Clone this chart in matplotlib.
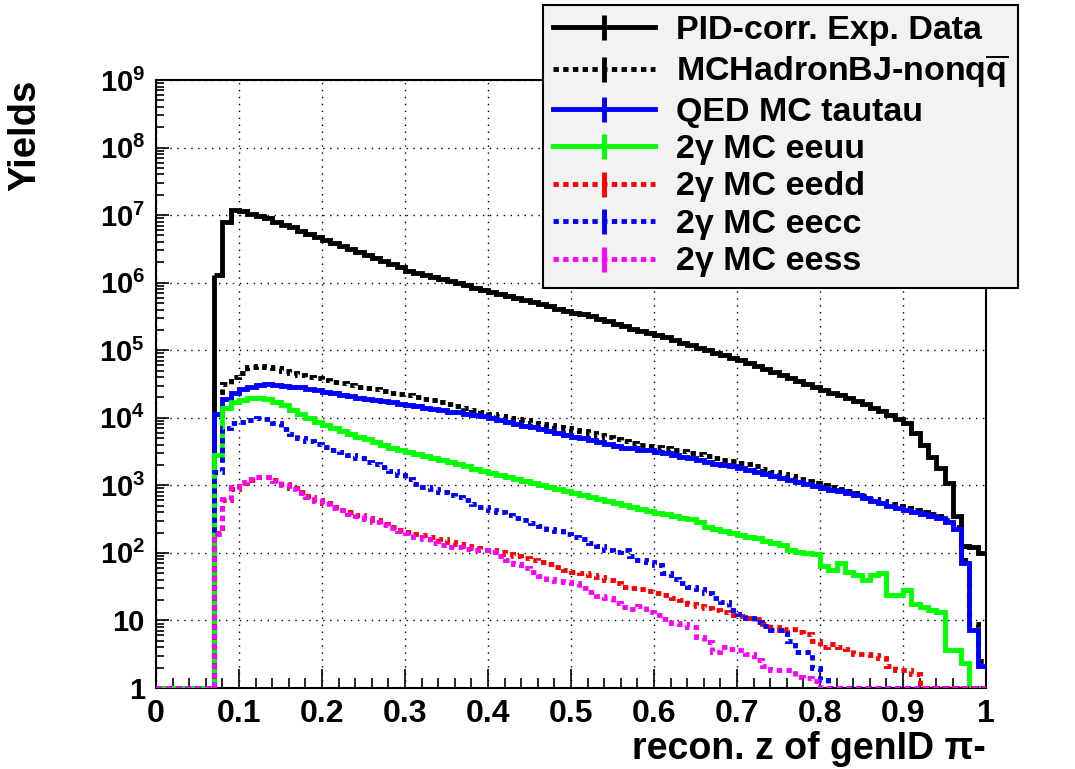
import numpy as np
import matplotlib.pyplot as plt
from matplotlib.lines import Line2D
from matplotlib.ticker import FixedLocator, FixedFormatter, LogLocator, NullFormatter

plt.rcParams['font.family'] = ['Liberation Sans', 'DejaVu Sans']
plt.rcParams['font.weight'] = 'bold'
plt.rcParams['mathtext.fontset'] = 'custom'
plt.rcParams['mathtext.rm'] = 'Liberation Sans:bold'
plt.rcParams['mathtext.bf'] = 'Liberation Sans:bold'
plt.rcParams['mathtext.it'] = 'Liberation Sans:bold'

# histogram binning: 100 bins of 0.01 in z
bin_edges = np.linspace(0, 1, 101)

# log10(yield) per bin; empty MC bins sit on the floor (yield 1)
# data starts at z = 0.07
data_log10 = [6.11, 6.90, 7.07,
              7.06, 7.02, 6.98, 6.95, 6.90, 6.86, 6.82, 6.77, 6.72, 6.68,
              6.63, 6.58, 6.54, 6.50, 6.46, 6.41, 6.37, 6.32, 6.27, 6.23,
              6.18, 6.15, 6.12, 6.09, 6.05, 6.02, 5.99, 5.96, 5.92, 5.89,
              5.86, 5.83, 5.80, 5.77, 5.74, 5.71, 5.68, 5.65, 5.61, 5.58,
              5.55, 5.53, 5.50, 5.46, 5.43, 5.39, 5.36, 5.32, 5.29, 5.25,
              5.22, 5.19, 5.15, 5.11, 5.08, 5.04, 5.00, 4.96, 4.93, 4.89,
              4.85, 4.81, 4.76, 4.72, 4.68, 4.63, 4.59, 4.54, 4.50, 4.45,
              4.41, 4.37, 4.33, 4.29, 4.25, 4.20, 4.15, 4.10, 4.04, 3.98,
              3.92, 3.78, 3.60, 3.42, 3.25, 3.03, 2.55, 2.10, 2.08, 2.00]
data_floor = 2500  # lower end of the rising edge at z = 0.07

empty = [0.0] * 7
hadron_log10 = empty + [4.38, 4.50, 4.60,
                        4.67, 4.75, 4.77, 4.75, 4.73, 4.69, 4.66, 4.63, 4.61, 4.59,
                        4.56, 4.53, 4.51, 4.49, 4.46, 4.44, 4.42, 4.40, 4.37, 4.35,
                        4.33, 4.31, 4.28, 4.26, 4.23, 4.20, 4.18, 4.15, 4.12, 4.08,
                        4.05, 4.03, 4.00, 3.98, 3.96, 3.93, 3.91, 3.89, 3.87, 3.85,
                        3.82, 3.80, 3.78, 3.75, 3.72, 3.69, 3.66, 3.62, 3.60, 3.58,
                        3.57, 3.55, 3.53, 3.51, 3.48, 3.46, 3.43, 3.41, 3.38, 3.36,
                        3.33, 3.31, 3.28, 3.24, 3.20, 3.17, 3.14, 3.10, 3.07, 3.04,
                        3.00, 2.97, 2.94, 2.91, 2.88, 2.84, 2.80, 2.77, 2.73, 2.69,
                        2.66, 2.63, 2.60, 2.57, 2.54, 2.48, 2.39, 1.90, 0.95, 0.40]
tautau_log10 = empty + [4.05, 4.28, 4.36,
                        4.42, 4.46, 4.49, 4.50, 4.49, 4.47, 4.46, 4.45, 4.43, 4.41,
                        4.38, 4.36, 4.34, 4.32, 4.30, 4.28, 4.27, 4.25, 4.23, 4.21,
                        4.19, 4.17, 4.15, 4.13, 4.11, 4.09, 4.08, 4.06, 4.04, 4.02,
                        4.00, 3.97, 3.94, 3.91, 3.88, 3.86, 3.83, 3.80, 3.78, 3.75,
                        3.72, 3.70, 3.67, 3.64, 3.61, 3.58, 3.55, 3.55, 3.53, 3.52,
                        3.50, 3.48, 3.45, 3.42, 3.40, 3.37, 3.35, 3.32, 3.30, 3.28,
                        3.25, 3.22, 3.20, 3.17, 3.14, 3.11, 3.08, 3.05, 3.02, 2.99,
                        2.96, 2.93, 2.91, 2.88, 2.85, 2.81, 2.77, 2.74, 2.70, 2.66,
                        2.63, 2.60, 2.57, 2.54, 2.51, 2.45, 2.36, 1.85, 0.86, 0.32]
eeuu_log10 = empty + [3.45, 4.15, 4.24,
                      4.27, 4.29, 4.29, 4.28, 4.24, 4.19, 4.12, 4.06, 4.00, 3.94,
                      3.89, 3.85, 3.80, 3.76, 3.72, 3.68, 3.64, 3.60, 3.56, 3.53,
                      3.50, 3.47, 3.44, 3.41, 3.37, 3.34, 3.31, 3.28, 3.24, 3.21,
                      3.18, 3.15, 3.12, 3.09, 3.06, 3.03, 3.00, 2.97, 2.94, 2.91,
                      2.88, 2.86, 2.83, 2.80, 2.77, 2.74, 2.71, 2.68, 2.65, 2.62,
                      2.59, 2.57, 2.55, 2.52, 2.50, 2.46, 2.38, 2.35, 2.33, 2.30,
                      2.26, 2.24, 2.22, 2.18, 2.15, 2.12, 2.05, 2.02, 2.00, 1.98,
                      1.80, 1.75, 1.85, 1.72, 1.68, 1.60, 1.68, 1.70, 1.38, 1.38,
                      1.45, 1.25, 1.20, 1.15, 1.12, 0.56, 0.56, 0.37, 0.00, 0.00]
eedd_log10 = empty + [2.30, 2.78, 2.95,
                      3.03, 3.08, 3.12, 3.13, 3.08, 3.02, 2.96, 2.90, 2.84, 2.78,
                      2.74, 2.68, 2.63, 2.60, 2.56, 2.52, 2.48, 2.43, 2.38, 2.34,
                      2.31, 2.28, 2.26, 2.24, 2.20, 2.16, 2.13, 2.10, 2.07, 2.05,
                      2.04, 2.01, 1.98, 1.95, 1.92, 1.89, 1.86, 1.83, 1.79, 1.75,
                      1.72, 1.70, 1.67, 1.64, 1.60, 1.56, 1.50, 1.48, 1.46, 1.43,
                      1.40, 1.38, 1.33, 1.30, 1.25, 1.22, 1.18, 1.15, 1.12, 1.08,
                      1.06, 1.04, 1.02, 0.95, 0.90, 0.86, 0.88, 0.83, 0.80, 0.70,
                      0.61, 0.65, 0.61, 0.58, 0.50, 0.50, 0.49, 0.45, 0.32, 0.27,
                      0.27, 0.20, 0.00, 0.00, 0.00, 0.00, 0.00, 0.00, 0.00, 0.00]
eecc_log10 = empty + [3.20, 3.85, 3.92,
                      3.94, 3.97, 4.00, 3.98, 3.92, 3.84, 3.76, 3.70, 3.65, 3.61,
                      3.57, 3.53, 3.49, 3.45, 3.40, 3.35, 3.31, 3.27, 3.21, 3.16,
                      3.10, 3.02, 2.98, 2.94, 2.90, 2.86, 2.82, 2.78, 2.73, 2.68,
                      2.63, 2.60, 2.56, 2.52, 2.48, 2.44, 2.40, 2.36, 2.32, 2.28,
                      2.24, 2.20, 2.15, 2.10, 2.05, 2.02, 2.04, 1.96, 1.89, 1.87,
                      1.82, 1.70, 1.62, 1.56, 1.50, 1.47, 1.40, 1.33, 1.27, 1.15,
                      1.10, 1.04, 0.98, 0.92, 0.86, 0.86, 0.69, 0.54, 0.54, 0.30,
                      0.12, 0.00, 0.00, 0.00, 0.00, 0.00, 0.00, 0.00, 0.00, 0.00,
                      0.00, 0.00, 0.00, 0.00, 0.00, 0.00, 0.00, 0.00, 0.00, 0.00]
eess_log10 = empty + [2.28, 2.80, 2.97,
                      3.05, 3.10, 3.13, 3.12, 3.06, 3.00, 2.94, 2.89, 2.83, 2.77,
                      2.73, 2.67, 2.63, 2.58, 2.55, 2.50, 2.46, 2.42, 2.37, 2.33,
                      2.30, 2.24, 2.20, 2.15, 2.12, 2.09, 2.08, 2.06, 2.05, 2.04,
                      2.02, 1.96, 1.90, 1.84, 1.78, 1.72, 1.66, 1.62, 1.59, 1.57,
                      1.55, 1.48, 1.42, 1.36, 1.33, 1.26, 1.20, 1.17, 1.22, 1.12,
                      1.08, 1.02, 0.96, 0.94, 0.90, 0.76, 0.68, 0.54, 0.61, 0.58,
                      0.56, 0.50, 0.41, 0.32, 0.27, 0.27, 0.27, 0.17, 0.15, 0.10,
                      0.00, 0.00, 0.00, 0.00, 0.00, 0.00, 0.00, 0.00, 0.00, 0.00,
                      0.00, 0.00, 0.00, 0.00, 0.00, 0.00, 0.00, 0.00, 0.00, 0.00]

labels = ["PID-corr. Exp. Data", r"MCHadronBJ-nonq$\mathbf{\overline{q}}$", "QED MC tautau",
          "2γ MC eeuu", "2γ MC eedd", "2γ MC eecc", "2γ MC eess"]
mc_series = [hadron_log10, tautau_log10, eeuu_log10, eedd_log10, eecc_log10, eess_log10]
colors = ["black", "black", "#0000ff", "#00ff00", "#ff0000", "#0000ff", "#ff00ff"]
dots = (0, (1.1, 0.9))
styles = ["-", dots, "-", "-", dots, dots, dots]

xtick_vals = [0, 0.1, 0.2, 0.3, 0.4, 0.5, 0.6, 0.7, 0.8, 0.9, 1.0]
xtick_labels = ["0", "0.1", "0.2", "0.3", "0.4", "0.5", "0.6", "0.7", "0.8", "0.9", "1"]
ytick_vals = [1, 1e1, 1e2, 1e3, 1e4, 1e5, 1e6, 1e7, 1e8, 1e9]
ytick_labels = ["1", "10"] + [r"$\mathbf{10^{%d}}$" % k for k in range(2, 10)]

fig = plt.figure(figsize=(10.75, 7.69), dpi=100)
ax = fig.add_axes([156 / 1075, 1 - 688 / 769, 830 / 1075, 608 / 769])

lw = 3.5
data_vals = 10 ** np.array(data_log10)
ax.stairs(data_vals, bin_edges[7:], baseline=None, color=colors[0], lw=lw, zorder=3)
ax.vlines(bin_edges[7], data_floor, data_vals[0], color=colors[0], lw=lw, zorder=3)
for vals, c, ls in zip(mc_series, colors[1:], styles[1:]):
    ax.stairs(10 ** np.array(vals), bin_edges, baseline=None, color=c, lw=lw,
              linestyle=ls, zorder=3)

ax.set_yscale('log')
ax.set_xlim(0, 1)
ax.set_ylim(1, 1e9)

ax.xaxis.set_major_locator(FixedLocator(xtick_vals))
ax.xaxis.set_major_formatter(FixedFormatter(xtick_labels))
ax.xaxis.set_minor_locator(FixedLocator(np.arange(0, 1.001, 0.02)))
ax.yaxis.set_major_locator(FixedLocator(ytick_vals))
ax.yaxis.set_major_formatter(FixedFormatter(ytick_labels))
ax.yaxis.set_minor_locator(LogLocator(base=10, subs=np.arange(2, 10), numticks=20))
ax.yaxis.set_minor_formatter(NullFormatter())

ax.tick_params(axis='both', which='both', direction='in', top=False, right=False, width=1.2)
ax.tick_params(axis='x', which='major', length=14, pad=8, labelsize=23)
ax.tick_params(axis='x', which='minor', length=7)
ax.tick_params(axis='y', which='major', length=9, pad=8, labelsize=21)
ax.tick_params(axis='y', which='minor', length=6)
for s in ax.spines.values():
    s.set_linewidth(1.5)

ax.grid(True, which='major', color='black', lw=1.0, linestyle=(0, (1, 4)))
ax.set_axisbelow(True)

ax.set_xlabel("recon. z of genID π-", fontsize=27, fontweight='bold', loc='right')
ax.xaxis.set_label_coords(1.0, -0.07)
ax.set_ylabel("Yields", fontsize=27.5, fontweight='bold', loc='top')
ax.yaxis.set_label_coords(-0.136, 1.0)

handles = [Line2D([], [], color=c, lw=lw, linestyle=ls, marker='|', markersize=18,
                  markeredgewidth=3.5) for c, ls in zip(colors, styles)]
leg = fig.legend(handles, labels, loc='upper left', bbox_to_anchor=(543 / 1075, 1 - 5 / 769),
                 fontsize=24.5, frameon=True, fancybox=False, framealpha=1,
                 facecolor='#f2f2f2', edgecolor='black', handlelength=3.0,
                 handletextpad=0.6, labelspacing=0.19, borderpad=0.3, borderaxespad=0)
leg.get_frame().set_linewidth(1.5)
leg.set_zorder(10)

fig.savefig("out.png", dpi=100)
